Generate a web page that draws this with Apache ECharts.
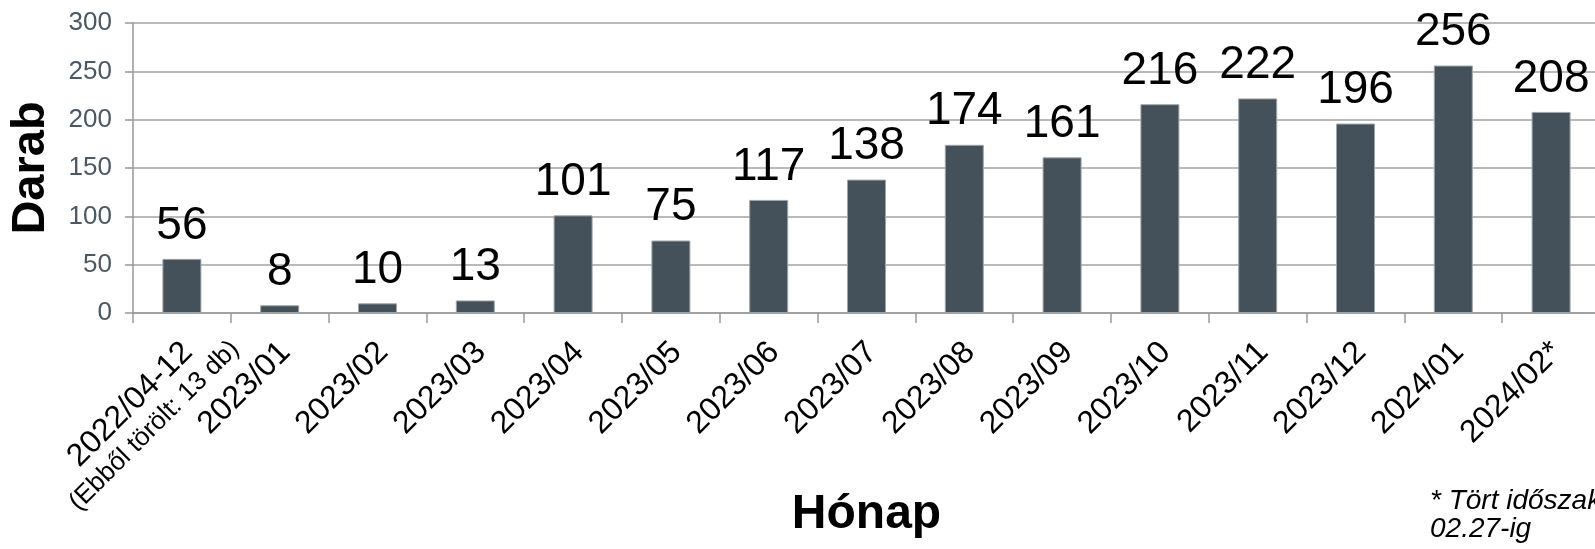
<!DOCTYPE html>
<html>
<head>
<meta charset="utf-8">
<script src="https://cdn.jsdelivr.net/npm/echarts@6/dist/echarts.min.js"></script>
<style>
html,body{margin:0;padding:0;background:#fff;}
#chart{width:1595px;height:549px;}
</style>
</head>
<body>
<div id="chart"></div>
<script>
// adatok
var honapok = ['2022/04-12\n(Ebből törölt: 13 db)', '2023/01', '2023/02', '2023/03', '2023/04', '2023/05', '2023/06',
	'2023/07', '2023/08', '2023/09', '2023/10', '2023/11', '2023/12', '2024/01', '2024/02*'];
var darab = [56, 8, 10, 13, 101, 75, 117, 138, 174, 161, 216, 222, 196, 256, 208];
var yTicks = [0, 50, 100, 150, 200, 250, 300];
var megjegyzes = ['* Tört időszak', '02.27-ig'];

var font = 'Liberation Sans, Arial, sans-serif';
var chart = echarts.init(document.getElementById('chart'));
var option = {
	animation: false,
	backgroundColor: '#fff',
	grid: {left: 133, top: 23, width: 1467, height: 290, containLabel: false, outerBoundsMode: 'none'},
	xAxis: [{
		type: 'category',
		data: honapok,
		name: 'Hónap',
		nameLocation: 'middle',
		nameGap: 178,
		nameMoveOverlap: false,
		nameTextStyle: {fontFamily: font, fontSize: 48, fontWeight: 'bold', color: '#000'},
		axisLine: {lineStyle: {color: '#999', width: 1.5}},
		axisTick: {show: true, length: 10, alignWithLabel: false, lineStyle: {color: '#999', width: 1.5}},
		axisLabel: {
			interval: 0, rotate: 45, margin: 23, verticalAlign: 'top',
			width: 166, overflow: 'none',
			fontFamily: font, color: '#000',
			formatter: function(v){
				var s = v.split('\n');
				if(s.length > 1) return '{a|' + s[0] + '}\n{b|' + s[1] + '}';
				return '{a|' + v + '}';
			},
			rich: {
				a: {fontFamily: font, fontSize: 32, lineHeight: 24, color: '#000', align: 'right', padding: [0, 4, 0, 0]},
				b: {fontFamily: font, fontSize: 26, lineHeight: 40, color: '#000', align: 'center'}
			}
		}
	}],
	yAxis: [{
		type: 'value',
		min: yTicks[0], max: yTicks[yTicks.length-1], interval: yTicks[1]-yTicks[0],
		name: 'Darab',
		nameLocation: 'middle',
		nameGap: 78,
		nameMoveOverlap: false,
		nameTextStyle: {fontFamily: font, fontSize: 47, fontWeight: 'bold', color: '#000'},
		axisLine: {show: true, lineStyle: {color: '#999', width: 1.5}},
		axisTick: {show: true, length: 8, lineStyle: {color: '#999', width: 1.5}},
		axisLabel: {margin: 21, fontFamily: font, fontSize: 26, color: '#4b5863'},
		splitLine: {show: true, lineStyle: {color: '#a3a3a3', width: 1.5}}
	}],
	series: [{
		name: 'Darab',
		type: 'bar',
		data: darab,
		barWidth: 39,
		itemStyle: {color: '#44515b', borderColor: '#9ea5aa', borderWidth: 1},
		label: {show: true, position: 'top', distance: 10, fontFamily: font, fontSize: 46, color: '#000'}
	}],
	graphic: [{
		type: 'text', left: 1430, top: 487,
		style: {text: megjegyzes.join('\n'), font: 'italic 28px ' + font, fill: '#000', lineHeight: 28}
	}]
};
chart.setOption(option);
</script>
</body>
</html>
